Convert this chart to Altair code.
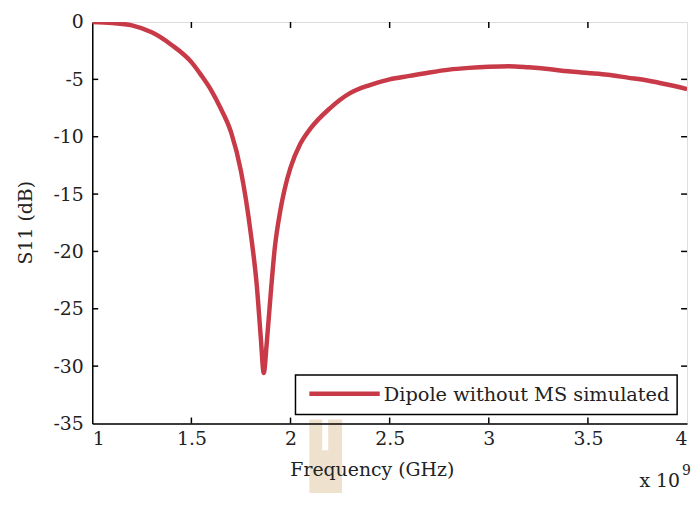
import altair as alt
import pandas as pd

freq_ghz = [1.0, 1.1, 1.2, 1.3, 1.4, 1.5, 1.55, 1.6, 1.65, 1.7, 1.75, 1.8, 1.83, 1.85,
            1.865, 1.88, 1.9, 1.92, 1.95, 1.97, 2.0, 2.05, 2.1, 2.2, 2.3, 2.4, 2.5, 2.6,
            2.7, 2.8, 2.9, 3.0, 3.1, 3.2, 3.3, 3.4, 3.5, 3.6, 3.7, 3.8, 3.9, 4.0]
s11_db = [0.0, -0.08, -0.3, -0.9, -2.0, -3.5, -4.65, -5.95, -7.6, -9.6, -13.0, -18.5, -23.0, -27.5,
          -30.6, -28.0, -23.7, -19.8, -16.3, -14.6, -12.7, -10.6, -9.3, -7.5, -6.2, -5.5, -5.0, -4.7,
          -4.4, -4.15, -4.0, -3.9, -3.85, -3.95, -4.1, -4.3, -4.45, -4.6, -4.85, -5.1, -5.45, -5.85]
series_name = "Dipole without MS simulated"

x_ticks = [1.0, 1.5, 2.0, 2.5, 3.0, 3.5, 4.0]
y_ticks = [-35, -30, -25, -20, -15, -10, -5, 0]
x_inner_ticks = [1.5, 2.0, 2.5, 3.0, 3.5]
y_inner_ticks = [-30, -25, -20, -15, -10, -5]

FONT = "DejaVu Serif"
RED = "#c83a48"
TXT = "#222"
W, H = 600, 405

df = pd.DataFrame({"f": freq_ghz, "s11": s11_db})
xt = pd.DataFrame({"f": x_inner_ticks})
yt = pd.DataFrame({"s11": y_inner_ticks})
one = pd.DataFrame({"a": [0]})

xscale = alt.Scale(domain=[1, 4], nice=False, zero=False)
yscale = alt.Scale(domain=[-35, 0], nice=False, zero=False)

line = alt.Chart(df).mark_line(strokeWidth=4.5, clip=True, color=RED,
                               interpolate="monotone").encode(
    x=alt.X("f:Q", scale=xscale,
            axis=alt.Axis(title="Frequency (GHz)", values=x_ticks, zindex=1,
                          labelExpr="'' + datum.value", grid=False,
                          tickSize=0, labelPadding=6, domainColor="black", domainWidth=1.5,
                          labelFont=FONT, labelFontSize=19, labelColor=TXT,
                          titleFont=FONT, titleFontSize=19, titleFontWeight="normal",
                          titleColor=TXT, titleX=282, titleY=37, titleBaseline="top")),
    y=alt.Y("s11:Q", scale=yscale,
            axis=alt.Axis(title="S11 (dB)", values=y_ticks,
                          labelExpr="'' + datum.value", grid=False,
                          tickSize=0, labelPadding=9, domainColor="black", domainWidth=1.5,
                          labelFont=FONT, labelFontSize=19, labelColor=TXT,
                          titleFont=FONT, titleFontSize=19, titleFontWeight="normal",
                          titleColor=TXT, titleX=-67, titleY=202, titleAngle=-90,
                          titleBaseline="middle", titleAlign="center")),
)

tick_style = dict(color="black", strokeWidth=1.5)
bottom_ticks = alt.Chart(xt).mark_rule(**tick_style).encode(
    x=alt.X("f:Q", scale=xscale), y=alt.value(H), y2=alt.value(H - 6))
top_ticks = alt.Chart(xt).mark_rule(**tick_style).encode(
    x=alt.X("f:Q", scale=xscale), y=alt.value(0), y2=alt.value(6))
left_ticks = alt.Chart(yt).mark_rule(**tick_style).encode(
    y=alt.Y("s11:Q", scale=yscale), x=alt.value(0), x2=alt.value(6))
right_ticks = alt.Chart(yt).mark_rule(**tick_style).encode(
    y=alt.Y("s11:Q", scale=yscale), x=alt.value(W), x2=alt.value(W - 6))

# legend drawn by hand (box, line sample, label)
leg_box = alt.Chart(one).mark_rect(fill="white", stroke="black", strokeWidth=1.5).encode(
    x=alt.value(205), x2=alt.value(590), y=alt.value(356), y2=alt.value(396))
leg_line = alt.Chart(one).mark_rule(color=RED, strokeWidth=4.5).encode(
    x=alt.value(219), x2=alt.value(290), y=alt.value(375))
leg_text = alt.Chart(pd.DataFrame({"t": [series_name]})).mark_text(
    font=FONT, fontSize=19.5, color=TXT, align="left", baseline="middle").encode(
    x=alt.value(294), y=alt.value(376), text="t:N")

# scanner artefact (beige stripes) below the axis
beige = "#eee2cf"
art1 = alt.Chart(one).mark_rect(color=beige).encode(
    x=alt.value(219), x2=alt.value(232), y=alt.value(H - 4), y2=alt.value(490))
art2 = alt.Chart(one).mark_rect(color=beige).encode(
    x=alt.value(238), x2=alt.value(252), y=alt.value(H - 4), y2=alt.value(490))
art3 = alt.Chart(one).mark_rect(color=beige).encode(
    x=alt.value(231), x2=alt.value(239), y=alt.value(432), y2=alt.value(490))

exp_base = alt.Chart(pd.DataFrame({"t": ["x 10"]})).mark_text(
    font=FONT, fontSize=19, color=TXT, align="left", baseline="alphabetic").encode(
    x=alt.value(552), y=alt.value(469), text="t:N")
exp_sup = alt.Chart(pd.DataFrame({"t": ["9"]})).mark_text(
    font=FONT, fontSize=14, color=TXT, align="left", baseline="alphabetic").encode(
    x=alt.value(595), y=alt.value(457), text="t:N")

chart = alt.layer(art1, art2, art3, line, bottom_ticks, top_ticks, left_ticks, right_ticks,
                  leg_box, leg_line, leg_text, exp_base, exp_sup).properties(
    width=W, height=H,
    autosize=alt.AutoSizeParams(type="none"),
    padding={"left": 85, "top": 12, "right": 5, "bottom": 68},
).configure_view(stroke="black", strokeWidth=1.5).configure(background="white")

chart.save("out.html", embed_options={"renderer": "svg", "actions": False})
